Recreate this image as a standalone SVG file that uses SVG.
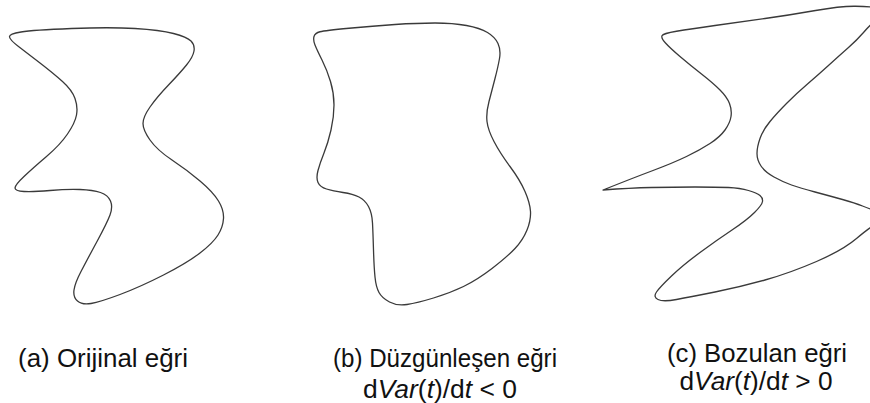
<svg xmlns="http://www.w3.org/2000/svg" width="870" height="403" viewBox="0 0 870 403">
<style>
.curve{fill:none;stroke:#3a3a3a;stroke-width:1.3;stroke-linejoin:round}
.lbl{font-family:"Liberation Sans",Arial,sans-serif;font-size:25px;fill:#111;text-anchor:middle}
.it{font-style:italic}
</style>
<rect width="870" height="403" fill="#fff"/>
<g id="curve-a">
<path class="curve" d="M 9.5,37 Q 9,34 21,32 Q 33,30 71.5,28.5 Q 110,27 135,28.5 Q 160,30 173.5,33.5 Q 187,37 191,41 Q 195,45 194,51 Q 193,57 186.5,65 Q 180,73 168.5,85 Q 157,97 150,107 Q 143,117 143,123.5 Q 143,130 150,140 Q 157,150 172,160 Q 187,170 200,181 Q 213,192 218.5,201 Q 224,210 223.5,218.5 Q 223,227 218,235 Q 213,243 200,253 Q 187,263 163.5,275 Q 140,287 120,294.5 Q 100,302 91,303.5 Q 82,305 77.5,301 Q 73,297 74,290 Q 75,283 81,271.5 Q 87,260 97,241.5 Q 107,223 110,215 Q 113,207 110.5,201 Q 108,195 100.5,192.5 Q 93,190 80,189.5 Q 67,189 50,190.5 Q 33,192 24,191.5 Q 15,191 15,188 Q 15,185 24,176.5 Q 33,168 46.5,156.5 Q 60,145 67.5,134 Q 75,123 76.5,115 Q 78,107 75,98.5 Q 72,90 62.5,81.5 Q 53,73 40,63 Q 27,53 18.5,46.5 Q 10,40 9.5,37 Z"/>
<text class="lbl" x="103" y="367" textLength="170" lengthAdjust="spacingAndGlyphs">(a) Orijinal eğri</text>
</g>
<g id="curve-b">
<path class="curve" d="M 314,36.5 Q 315,33 320,31.75 Q 325,30.5 349,28.25 Q 373,26 395,24.5 Q 417,23 435,23 Q 453,23 466.5,25.5 Q 480,28 487.5,32.5 Q 495,37 498,43.5 Q 501,50 499.5,58.5 Q 498,67 495,78.5 Q 492,90 489,101.5 Q 486,113 487,121.5 Q 488,130 494,141.5 Q 500,153 510,166.5 Q 520,180 525,191.5 Q 530,203 530.5,211.5 Q 531,220 527,230 Q 523,240 515,248.5 Q 507,257 492,268.5 Q 477,280 463.5,286.5 Q 450,293 433.5,298 Q 417,303 407,304.5 Q 397,306 389.5,302 Q 382,298 379,292.5 Q 376,287 375,277 Q 374,267 373.5,250 Q 373,233 372.5,223 Q 372,213 368.5,206.5 Q 365,200 359,197 Q 353,194 343,192.5 Q 333,191 326.5,189 Q 320,187 318,182.5 Q 316,178 318,170.5 Q 320,163 324,153 Q 328,143 331,130 Q 334,117 334,105 Q 334,93 330.5,81.5 Q 327,70 322,60 Q 317,50 315,45 Q 313,40 314,36.5 Z"/>
<text class="lbl" x="445" y="367" textLength="224" lengthAdjust="spacingAndGlyphs">(b) Düzgünleşen eğri</text>
<text class="lbl" x="440" y="398" textLength="154" lengthAdjust="spacingAndGlyphs">d<tspan class="it">Var</tspan>(<tspan class="it">t</tspan>)/d<tspan class="it">t</tspan> &lt; 0</text>
</g>
<g id="curve-c">
<path class="curve" d="M 662,35.75 Q 663,33.5 676.5,31.25 Q 690,29 715,25.5 Q 740,22 765,18.5 Q 790,15 815.5,10.5 Q 841,6 855.5,6.25 Q 870,6.5 877,7.75 Q 884,9 885,11.5 Q 886,14 882,16.5 Q 878,19 874,22 Q 870,25 863.5,32.5 Q 857,40 848.5,47.5 Q 840,55 829,65 Q 818,75 807.5,84 Q 797,93 787,103 Q 777,113 770,121.5 Q 763,130 760,138.5 Q 757,147 757,153.5 Q 757,160 761,166 Q 765,172 774,177 Q 783,182 791.5,185 Q 800,188 815,192 Q 830,196 842.5,199.5 Q 855,203 862.5,206 Q 870,209 876,211 Q 882,213 883,216.5 Q 884,220 877,223.5 Q 870,227 856.5,238.5 Q 843,250 816.5,261.5 Q 790,273 765,280 Q 740,287 715,292 Q 690,297 676.5,299.5 Q 663,302 658,299.5 Q 653,297 656.5,292 Q 660,287 671.5,276 Q 683,265 700,252.5 Q 717,240 732,230 Q 747,220 754.5,212.5 Q 762,205 762.5,201.5 Q 763,198 760,195.5 Q 757,193 748.5,190.5 Q 740,188 728.5,187.5 Q 717,187 695,187 Q 673,187 651.5,187.5 Q 630,188 603,190 Q 633,178 653,170.5 Q 673,163 686.5,156.5 Q 700,150 710,143.5 Q 720,137 725,130 Q 730,123 731,116.5 Q 732,110 729.5,103.5 Q 727,97 720,90 Q 713,83 701.5,74 Q 690,65 680,56.5 Q 670,48 665.5,43 Q 661,38 662,35.75 Z"/>
<text class="lbl" x="757" y="362" textLength="180" lengthAdjust="spacingAndGlyphs">(c) Bozulan eğri</text>
<text class="lbl" x="756" y="390" textLength="153" lengthAdjust="spacingAndGlyphs">d<tspan class="it">Var</tspan>(<tspan class="it">t</tspan>)/d<tspan class="it">t</tspan> &gt; 0</text>
</g>
</svg>
